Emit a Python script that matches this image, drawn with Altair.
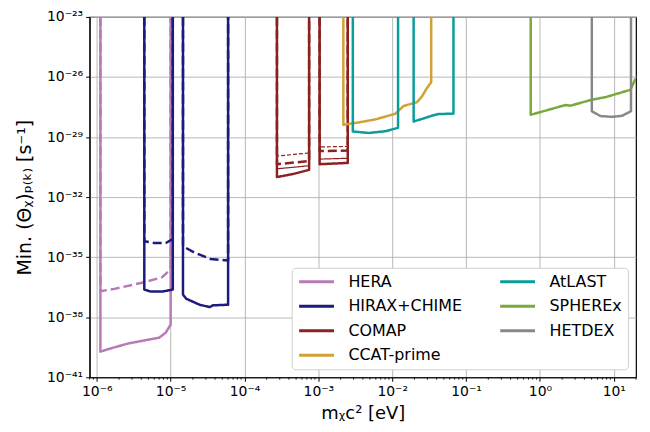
import altair as alt
import pandas as pd

TOP = 1e-23  # walls run up to the top of the plot

# ---- data (mass in eV, rate in s^-1) ----
hera_solid_x = [1.12e-6, 1.12e-6, 1.41e-6, 2.62e-6, 7.0e-6, 8.6e-6, 1.0e-5, 1.0e-5]
hera_solid_y = [TOP, 1.9e-40, 2.5e-40, 4.8e-40, 9.5e-40, 1.7e-39, 4.3e-39, TOP]
hera_dash_x = [1.12e-6, 1.12e-6, 1.73e-6, 4.4e-6, 7.7e-6, 9.5e-6, 1.0e-5, 1.0e-5]
hera_dash_y = [TOP, 2.0e-37, 2.6e-37, 5.6e-37, 1.0e-36, 2.1e-36, 3.2e-36, TOP]

hirax1_solid_x = [4.4e-6, 4.4e-6, 5.4e-6, 7.7e-6, 1.07e-5, 1.07e-5]
hirax1_solid_y = [TOP, 2.4e-37, 1.9e-37, 1.9e-37, 2.4e-37, TOP]
hirax1_dash_x = [4.4e-6, 4.4e-6, 6.0e-6, 8.6e-6, 1.07e-5, 1.07e-5]
hirax1_dash_y = [TOP, 6.2e-35, 5.1e-35, 5.1e-35, 8.1e-35, TOP]
hirax2_solid_x = [1.47e-5, 1.47e-5, 1.63e-5, 2.47e-5, 3.37e-5, 3.73e-5, 6.0e-5, 6.0e-5]
hirax2_solid_y = [TOP, 1.35e-37, 8.3e-38, 4.2e-38, 3.2e-38, 3.9e-38, 4.2e-38, TOP]
hirax2_dash_x = [1.47e-5, 1.47e-5, 2.07e-5, 3.47e-5, 6.0e-5, 6.0e-5]
hirax2_dash_y = [TOP, 3.5e-35, 1.74e-35, 8.1e-36, 6.8e-36, TOP]

comap1_x = [2.75e-4, 2.75e-4, 4.66e-4, 7.5e-4, 7.5e-4]
comap1_solid_y = [TOP, 1.0e-31, 1.45e-31, 2.3e-31, TOP]
comap1_solid2_y = [TOP, 2.6e-31, 3.1e-31, 3.7e-31, TOP]
comap1_dash_y = [TOP, 4.4e-31, 5.3e-31, 6.3e-31, TOP]
comap1_dash2_y = [TOP, 1.12e-30, 1.35e-30, 1.6e-30, TOP]
comap2_x = [1.04e-3, 1.04e-3, 2.5e-3, 2.5e-3]
comap2_solid_y = [TOP, 4.4e-31, 5.1e-31, TOP]
comap2_solid2_y = [TOP, 7.9e-31, 8.7e-31, TOP]
comap2_dash_y = [TOP, 2.0e-30, 2.1e-30, TOP]
comap2_dash2_y = [TOP, 3.2e-30, 3.4e-30, TOP]

ccat_x = [2.18e-3, 2.18e-3, 3.65e-3, 5.9e-3, 1.1e-2, 1.43e-2, 2.16e-2, 2.53e-2, 2.95e-2, 3.37e-2, 3.37e-2]
ccat_y = [TOP, 4.1e-29, 5.5e-29, 7.6e-29, 1.45e-28, 3.6e-28, 5.5e-28, 1.07e-27, 2.8e-27, 5.5e-27, TOP]

atlast1_x = [2.93e-3, 2.93e-3, 4.8e-3, 8.1e-3, 1.2e-2, 1.2e-2]
atlast1_y = [TOP, 1.9e-29, 1.6e-29, 1.95e-29, 2.9e-29, TOP]
atlast2_x = [1.95e-2, 1.95e-2, 2.66e-2, 3.45e-2, 4.24e-2, 6.75e-2, 6.75e-2]
atlast2_y = [TOP, 6.0e-29, 8.5e-29, 1.17e-28, 1.41e-28, 1.48e-28, TOP]

spherex_x = [0.75, 0.75, 2.23, 2.6, 5.1, 7.7, 16.8, 19.7]
spherex_y = [TOP, 1.29e-28, 4.0e-28, 3.7e-28, 7.4e-28, 9.8e-28, 2.3e-27, 8.3e-27]

hetdex_x = [5.04, 5.04, 6.6, 9.5, 12.9, 17.1, 17.1]
hetdex_y = [TOP, 1.95e-28, 1.12e-28, 1.02e-28, 1.15e-28, 1.95e-28, TOP]

experiments = ["HERA", "HIRAX+CHIME", "COMAP", "CCAT-prime", "AtLAST", "SPHEREx", "HETDEX"]
colors = ["#b77ab6", "#1b1b7e", "#8b2121", "#d2a134", "#0b9c9c", "#78a93a", "#888888"]

minor_x = [m * 10.0 ** k for k in range(-7, 2) for m in range(2, 10)]
minor_x = [v for v in minor_x if 8e-7 <= v <= 20]

# ---- assemble ----
curves = [
    ("HERA", "hera_s", "solid", "thick", hera_solid_x, hera_solid_y),
    ("HERA", "hera_d", "dashed", "thick", hera_dash_x, hera_dash_y),
    ("HIRAX+CHIME", "hx1_s", "solid", "thick", hirax1_solid_x, hirax1_solid_y),
    ("HIRAX+CHIME", "hx1_d", "dashed", "thick", hirax1_dash_x, hirax1_dash_y),
    ("HIRAX+CHIME", "hx2_s", "solid", "thick", hirax2_solid_x, hirax2_solid_y),
    ("HIRAX+CHIME", "hx2_d", "dashed", "thick", hirax2_dash_x, hirax2_dash_y),
    ("COMAP", "c1_s", "solid", "thick", comap1_x, comap1_solid_y),
    ("COMAP", "c1_s2", "solid", "thin", comap1_x, comap1_solid2_y),
    ("COMAP", "c1_d", "dashed", "thick", comap1_x, comap1_dash_y),
    ("COMAP", "c1_d2", "thindash", "thin", comap1_x, comap1_dash2_y),
    ("COMAP", "c2_s", "solid", "thick", comap2_x, comap2_solid_y),
    ("COMAP", "c2_s2", "solid", "thin", comap2_x, comap2_solid2_y),
    ("COMAP", "c2_d", "dashed", "thick", comap2_x, comap2_dash_y),
    ("COMAP", "c2_d2", "thindash", "thin", comap2_x, comap2_dash2_y),
    ("CCAT-prime", "ccat", "solid", "thick", ccat_x, ccat_y),
    ("AtLAST", "at1", "solid", "thick", atlast1_x, atlast1_y),
    ("AtLAST", "at2", "solid", "thick", atlast2_x, atlast2_y),
    ("SPHEREx", "sph", "solid", "thick", spherex_x, spherex_y),
    ("HETDEX", "het", "solid", "thick", hetdex_x, hetdex_y),
]
rows = []
for exp, cid, style, width, xs, ys in curves:
    for i, (xv, yv) in enumerate(zip(xs, ys)):
        rows.append({"exp": exp, "cid": cid, "style": style, "width": width,
                     "i": i, "x": xv, "y": yv})
df = pd.DataFrame(rows)
minor_df = pd.DataFrame({"x": minor_x})

W, H = 549, 362
FONT = "DejaVu Sans"

def exp_label():
    e = "abs(round(log(datum.value)/LN10))"
    sup = "'⁰¹²³⁴⁵⁶⁷⁸⁹'"
    return ("'10' + (datum.value < 0.5 ? '⁻' : '') + "
            f"({e} >= 10 ? substring({sup}, floor({e}/10), floor({e}/10)+1) : '') + "
            f"substring({sup}, {e} % 10, {e} % 10 + 1)")

xscale = alt.Scale(type="log", domain=[8e-7, 20], nice=False)
yscale = alt.Scale(type="log", domain=[1e-41, 1e-23], nice=False)

lines = alt.Chart(df).mark_line(clip=True, strokeCap="butt", strokeJoin="round").encode(
    x=alt.X("x:Q", scale=xscale,
            axis=alt.Axis(values=[1e-6, 1e-5, 1e-4, 1e-3, 1e-2, 1e-1, 1, 10],
                          labelExpr=exp_label(), title="mᵪc² [eV]")),
    y=alt.Y("y:Q", scale=yscale,
            axis=alt.Axis(values=[1e-41, 1e-38, 1e-35, 1e-32, 1e-29, 1e-26, 1e-23],
                          labelExpr=exp_label(), title="Min. (Θᵪ)ₚ₍ₖ₎ [s⁻¹]",
                          titleFontSize=19, titlePadding=12)),
    color=alt.Color("exp:N", scale=alt.Scale(domain=experiments, range=colors),
                    legend=alt.Legend(title=None, orient="bottom-right", columns=2)),
    strokeDash=alt.StrokeDash("style:N",
                              scale=alt.Scale(domain=["solid", "dashed", "thindash"],
                                              range=[[1, 0], [9, 4], [4, 2]]),
                              legend=None),
    strokeWidth=alt.StrokeWidth("width:N",
                                scale=alt.Scale(domain=["thick", "thin"], range=[2.5, 1.2]),
                                legend=None),
    detail="cid:N",
    order=alt.Order("i:Q"),
)

minor = alt.Chart(minor_df).mark_rule(color="black", strokeWidth=0.8).encode(
    x=alt.X("x:Q", scale=xscale),
    y=alt.value(H),
    y2=alt.value(H + 2.5),
)

chart = alt.layer(lines, minor).properties(
    width=W, height=H, padding={"left": 7, "top": 1, "right": 5, "bottom": 5}
).configure(
    font=FONT,
).configure_view(
    stroke="black", strokeWidth=1.2
).configure_axis(
    labelFont=FONT, titleFont=FONT, labelFontSize=14, titleFontSize=18,
    titleFontWeight="normal", labelColor="black", titleColor="black",
    domainColor="black", tickColor="black", tickSize=4, tickWidth=1,
    gridColor="#b0b0b0", gridWidth=0.9, labelPadding=3,
).configure_axisX(
    titlePadding=6,
).configure_legend(
    labelFont=FONT, labelFontSize=16, labelColor="black",
    symbolType="stroke", symbolSize=1225, symbolStrokeWidth=3,
    clipHeight=16, rowPadding=8.6, columnPadding=36, labelOffset=13,
    padding=6, offset=8, fillColor="white", strokeColor="#d0d0d0",
    cornerRadius=4,
)

chart.save("out.html", embed_options={"renderer": "svg", "actions": False})
